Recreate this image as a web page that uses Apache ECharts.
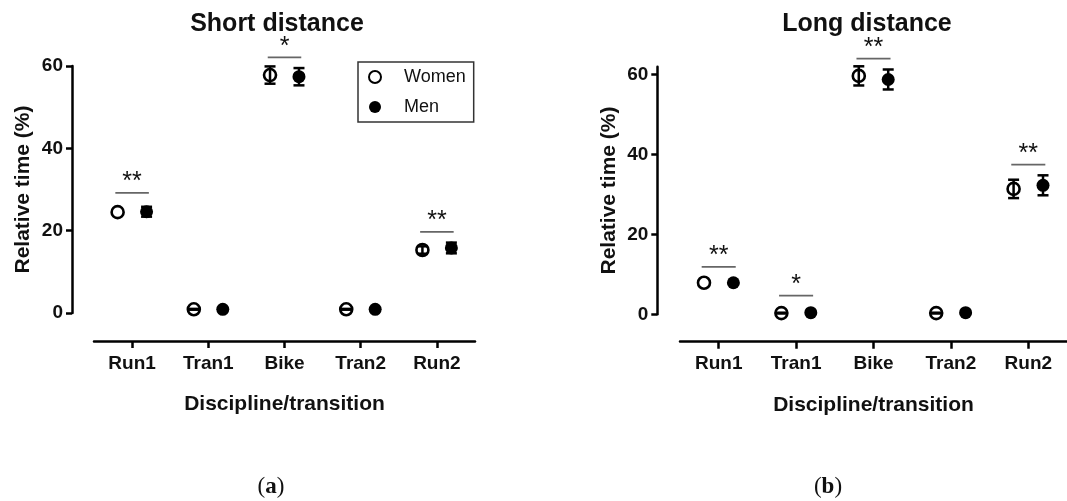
<!DOCTYPE html>
<html>
<head>
<meta charset="utf-8">
<script src="https://cdn.jsdelivr.net/npm/echarts@6/dist/echarts.min.js"></script>
<style>
  html, body { margin: 0; padding: 0; background: #fff; }
  #main { width: 1067px; height: 501px; }
</style>
</head>
<body>
<div id="main"></div>
<script>
var categories = ['Run1', 'Tran1', 'Bike', 'Tran2', 'Run2'];

// short distance (a)
var shortWomen = [24.5, 0.9, 57.8, 0.9, 15.3];
var shortWomenSd = [0, 0.1, 2.1, 0.1, 0.9];
var shortMen = [24.6, 0.9, 57.4, 0.9, 15.8];
var shortMenSd = [1.2, 0.1, 2.1, 0.1, 1.3];
var shortSigY = [29.2, null, 62.1, null, 19.7];
var shortSigText = ['**', '', '*', '', '**'];

// long distance (b)
var longWomen = [7.9, 0.3, 59.7, 0.3, 31.4];
var longWomenSd = [0, 0.1, 2.4, 0.1, 2.3];
var longMen = [7.9, 0.4, 58.8, 0.4, 32.3];
var longMenSd = [0.1, 0.1, 2.5, 0.1, 2.5];
var longSigY = [11.9, 4.7, 64.0, null, 37.5];
var longSigText = ['**', '*', '**', '', '**'];

var yTicks = [0, 20, 40, 60];
var shift = 0.19;   // women left, men right of the category centre

var myChart = echarts.init(document.getElementById('main'));
var font = 'Liberation Sans, Arial, sans-serif';

function pts(vals, dx) {
    return vals.map(function (v, i) { return [i + dx, v]; });
}
function bars(vals, sd, dx) {
    var out = [];
    vals.forEach(function (v, i) {
        if (sd[i] > 0) out.push([i + dx, v - sd[i], v + sd[i]]);
    });
    return out;
}
function errRender(params, api) {
    var top = api.coord([api.value(0), api.value(2)]);
    var bot = api.coord([api.value(0), api.value(1)]);
    var w = 5.5;
    var st = { stroke: '#000', lineWidth: 2.5 };
    return {
        type: 'group',
        children: [
            { type: 'line', shape: { x1: top[0], y1: top[1], x2: bot[0], y2: bot[1] }, style: st },
            { type: 'line', shape: { x1: top[0] - w, y1: top[1], x2: top[0] + w, y2: top[1] }, style: st },
            { type: 'line', shape: { x1: bot[0] - w, y1: bot[1], x2: bot[0] + w, y2: bot[1] }, style: st }
        ]
    };
}
function sigData(ys, texts) {
    var out = [];
    ys.forEach(function (y, i) {
        if (y != null) out.push([i, y, texts[i]]);
    });
    return out;
}
function sigRender(params, api, label) {
    var a = api.coord([api.value(0) - 0.22, api.value(1)]);
    var b = api.coord([api.value(0) + 0.22, api.value(1)]);
    return {
        type: 'group',
        children: [
            { type: 'line', shape: { x1: a[0], y1: a[1], x2: b[0], y2: b[1] },
              style: { stroke: '#666', lineWidth: 1.8 } },
            { type: 'text', x: (a[0] + b[0]) / 2, y: a[1] + 2,
              style: { text: label, fill: '#111', font: '25px ' + font,
                       align: 'center', verticalAlign: 'bottom' } }
        ]
    };
}

function panel(k, women, wSd, men, mSd, sigY, sigText) {
    var xa = k * 2;
    var sig = sigData(sigY, sigText);
    return [
        {
            name: 'Women', type: 'scatter', xAxisIndex: xa + 1, yAxisIndex: k,
            data: pts(women, -shift), symbol: 'circle', symbolSize: 12, z: 2,
            itemStyle: { color: '#fff', borderColor: '#000', borderWidth: 2.6, opacity: 1 }
        },
        {
            name: 'Men', type: 'scatter', xAxisIndex: xa + 1, yAxisIndex: k,
            data: pts(men, shift), symbol: 'circle', symbolSize: 13, z: 2,
            itemStyle: { color: '#000', opacity: 1 }
        },
        {
            type: 'custom', xAxisIndex: xa + 1, yAxisIndex: k, z: 3, silent: true,
            data: bars(women, wSd, -shift).concat(bars(men, mSd, shift)),
            renderItem: errRender
        },
        {
            type: 'custom', xAxisIndex: xa + 1, yAxisIndex: k, z: 3, silent: true,
            data: sig.map(function (d) { return [d[0], d[1]]; }),
            renderItem: function (params, api) {
                return sigRender(params, api, sig[params.dataIndex][2]);
            }
        }
    ];
}

function catAxis(grid, offset) {
    return {
        type: 'category', gridIndex: grid, data: categories, offset: offset,
        name: 'Discipline/transition', nameLocation: 'middle', nameGap: 53,
        nameTextStyle: { fontFamily: font, fontWeight: 'bold', fontSize: 21, color: '#111' },
        axisLine: { onZero: false, lineStyle: { color: '#000', width: 2.5 } },
        axisTick: { show: true, interval: 0, alignWithLabel: true, length: 7,
                    lineStyle: { width: 2.5, color: '#000' } },
        axisLabel: { fontFamily: font, fontWeight: 'bold', fontSize: 19, color: '#111', margin: 13 },
        splitLine: { show: false }
    };
}
function hiddenAxis(grid) {
    return { type: 'value', gridIndex: grid, min: -0.5, max: 4.5, show: false };
}
function valAxis(grid, max, offset) {
    return {
        type: 'value', gridIndex: grid, min: 0, max: max, offset: offset,
        name: 'Relative time (%)', nameLocation: 'middle', nameGap: 38,
        nameTextStyle: { fontFamily: font, fontWeight: 'bold', fontSize: 21, color: '#111' },
        axisLine: { show: true, onZero: false, lineStyle: { color: '#000', width: 2.5 } },
        axisTick: { show: true, length: 6, customValues: yTicks, lineStyle: { width: 2.5, color: '#000' } },
        axisLabel: { customValues: yTicks, fontFamily: font, fontWeight: 'bold', fontSize: 19, color: '#111', margin: 9 },
        splitLine: { show: false }
    };
}

var option = {
    backgroundColor: '#fff',
    animation: false,
    title: [
        { text: 'Short distance', left: 272, top: 7, textAlign: 'center',
          textStyle: { fontFamily: font, fontWeight: 'bold', fontSize: 25, color: '#111' } },
        { text: 'Long distance', left: 862, top: 7, textAlign: 'center',
          textStyle: { fontFamily: font, fontWeight: 'bold', fontSize: 25, color: '#111' } }
    ],
    legend: {
        data: ['Women', 'Men'], orient: 'vertical', left: 358, top: 62,
        borderColor: '#333', borderWidth: 1.5, padding: [6, 8, 6, 10], itemGap: 12,
        itemWidth: 12, itemHeight: 12, selectedMode: false,
        textStyle: { fontFamily: font, fontSize: 18, color: '#111', padding: [0, 0, 0, 18] }
    },
    grid: [
        { left: 94, right: 592, top: 66, bottom: 188 },
        { left: 680, right: -4, top: 66.7, bottom: 186.7 }
    ],
    xAxis: [catAxis(0, 28), hiddenAxis(0), catAxis(1, 27.4), hiddenAxis(1)],
    yAxis: [valAxis(0, 60, 22), valAxis(1, 62, 22.7)],
    graphic: [
        { type: 'text', x: 271, y: 487,
          style: { text: '{p|(}{b|a}{p|)}', align: 'center', verticalAlign: 'middle',
                   rich: { p: { fontFamily: 'Liberation Serif', fontSize: 23, fill: '#111' },
                           b: { fontFamily: 'Liberation Serif', fontWeight: 'bold', fontSize: 23, fill: '#111' } } } },
        { type: 'text', x: 828, y: 487,
          style: { text: '{p|(}{b|b}{p|)}', align: 'center', verticalAlign: 'middle',
                   rich: { p: { fontFamily: 'Liberation Serif', fontSize: 23, fill: '#111' },
                           b: { fontFamily: 'Liberation Serif', fontWeight: 'bold', fontSize: 23, fill: '#111' } } } }
    ],
    series: panel(0, shortWomen, shortWomenSd, shortMen, shortMenSd, shortSigY, shortSigText)
        .concat(panel(1, longWomen, longWomenSd, longMen, longMenSd, longSigY, longSigText))
};

myChart.setOption(option);
window.onresize = myChart.resize;
</script>
</body>
</html>
